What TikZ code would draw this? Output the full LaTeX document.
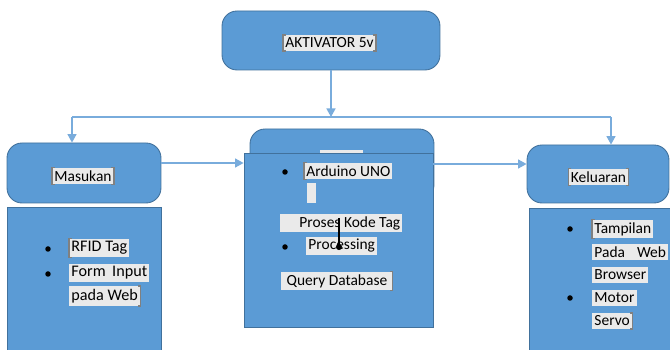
\documentclass[tikz,border=0pt]{standalone}
\usepackage{fontspec}
\setmainfont{Carlito}
\usetikzlibrary{arrows.meta,positioning,calc}
\definecolor{boxblue}{HTML}{5B9BD5}
\definecolor{boxedge}{HTML}{41719C}
\definecolor{linkblue}{HTML}{79ACDC}
\definecolor{lblgray}{HTML}{EAEAEA}
\tikzset{
  >={Triangle[length=1.7mm,width=1.8mm]},
  head/.style={draw=boxedge, fill=boxblue, rounded corners=3mm, line width=0.5pt},
  body/.style={draw=boxedge, fill=boxblue, line width=0.5pt},
  lbl/.style={fill=lblgray, inner xsep=1.2pt, inner ysep=1.5pt, font=\fontsize{8.8}{10.5}\selectfont},
  big/.style={font=\fontsize{9.2}{11}\selectfont},
  link/.style={draw=linkblue, line width=0.8pt},
  brk/.style={draw=gray, line width=0.7pt},
  dot/.style={circle, fill=black, inner sep=0pt, minimum size=1.1mm},
}

\begin{document}
\begin{tikzpicture}[x=0.02cm, y=-0.02cm]
  \useasboundingbox (0,0) rectangle (670,350);
  \clip (0,0) rectangle (670,350);
  % top block
  \node[head, minimum width=4.36cm, minimum height=1.18cm] (akt) at (331,40.5) {};
  \node[lbl] (akttxt) at (329.5,43) {AKTIVATOR 5v};
  % input side
  \node[head, minimum width=3.08cm, minimum height=1.2cm] (mas) at (84,173) {};
  \node[lbl] (mastxt) at (83,176) {Masukan};
  \node[body, minimum width=3.08cm, minimum height=3.06cm] (masb) at (84,283.5) {};
  \node[dot] (b1) at (48,249) {};
  \node[dot] (b2) at (48,274) {};
  \node[lbl, big, anchor=west] (rfid) at (69,248) {RFID Tag\hspace{1.2mm}};
  \node[lbl, big, anchor=west] (form) at (69,273) {Form\hspace{1.3mm}Input};
  \node[lbl, big, anchor=west] (pweb) at (69,296) {pada Web};
  % process block
  \node[head, minimum width=3.68cm, minimum height=1.42cm] (ctrh) at (342,164.5) {};
  \node[fill=lblgray, inner sep=0pt, minimum width=0.86cm, minimum height=0.4cm] (ctrlbl) at (341.5,160) {};
  \node[body, minimum width=3.78cm, minimum height=3.48cm] (ctr) at (338.5,240) {};
  \node[dot] (b3) at (285,172) {};
  \node[dot] (b4) at (285,247) {};
  \node[lbl, anchor=west] (ard) at (304,171) {Arduino UNO\hspace{1.5mm}};
  \node[fill=lblgray, inner sep=0pt, minimum width=0.18cm, minimum height=0.4cm] (gap) at (311.5,193) {};
  \node[lbl, anchor=west] (kode) at (280,223) {\hspace{3.4mm}Proses Kode Tag\hspace{0.8mm}};
  \node[lbl, anchor=west] (proc) at (306,246) {Processing\hspace{0.5mm}};
  \node[lbl, anchor=west, inner xsep=3pt] (qdb) at (281,281) {Query Database};
  \draw[-{Circle[length=1.2mm]}, line width=0.6pt] (339,218) -- (339,250);
  % output side
  \node[head, minimum width=2.84cm, minimum height=1.16cm] (kel) at (598,174) {};
  \node[lbl] (keltxt) at (598.5,177) {Keluaran};
  \node[body, minimum width=2.92cm, minimum height=3.04cm] (kelb) at (602,284) {};
  \node[dot] (b5) at (570,229) {};
  \node[dot] (b6) at (570,298) {};
  \node[lbl, anchor=west] (tamp) at (592,229) {Tampilan};
  \node[lbl, anchor=west] (pada) at (592,252) {Pada\hspace{2.4mm}Web};
  \node[lbl, anchor=west] (brow) at (592,275) {Browser\hspace{0.8mm}};
  \node[lbl, anchor=west] (motor) at (592,298) {Motor\hspace{0.6mm}};
  \node[lbl, anchor=west] (servo) at (592,321) {Servo};
  % brackets round the labels
  \draw[brk] ([xshift=1.5pt]akttxt.north west) -- (akttxt.north west) -- (akttxt.south west) -- ([xshift=1.5pt]akttxt.south west);
  \draw[brk] ([xshift=-1.5pt]akttxt.north east) -- (akttxt.north east) -- (akttxt.south east) -- ([xshift=-1.5pt]akttxt.south east);
  \draw[brk] ([xshift=1.5pt]mastxt.north west) -- (mastxt.north west) -- (mastxt.south west) -- ([xshift=1.5pt]mastxt.south west);
  \draw[brk] ([xshift=-1.5pt]mastxt.north east) -- (mastxt.north east) -- (mastxt.south east) -- ([xshift=-1.5pt]mastxt.south east);
  \draw[brk] ([xshift=1.5pt]keltxt.north west) -- (keltxt.north west) -- (keltxt.south west) -- ([xshift=1.5pt]keltxt.south west);
  \draw[brk] ([xshift=-1.5pt]keltxt.north east) -- (keltxt.north east) -- (keltxt.south east) -- ([xshift=-1.5pt]keltxt.south east);
  \draw[brk] ([xshift=1.5pt]rfid.north west) -- (rfid.north west) -- (rfid.south west) -- ([xshift=1.5pt]rfid.south west);
  \draw[brk] ([xshift=-1.5pt]pweb.north east) -- (pweb.north east) -- (pweb.south east) -- ([xshift=-1.5pt]pweb.south east);
  \draw[brk] ([xshift=1.5pt]ard.north west) -- (ard.north west) -- (ard.south west) -- ([xshift=1.5pt]ard.south west);
  \draw[brk] ([xshift=-1.5pt]qdb.north east) -- (qdb.north east) -- (qdb.south east) -- ([xshift=-1.5pt]qdb.south east);
  \draw[brk] ([xshift=1.5pt]tamp.north west) -- (tamp.north west) -- (tamp.south west) -- ([xshift=1.5pt]tamp.south west);
  \draw[brk] ([xshift=-1.5pt]servo.north east) -- (servo.north east) -- (servo.south east) -- ([xshift=-1.5pt]servo.south east);
  % connectors
  \coordinate (split) at (331,117);
  \coordinate (lsplit) at (72,117);
  \coordinate (rsplit) at (611,117);
  \draw[link,->] (akt.south) -- (split);
  \draw[link] (lsplit) -- (rsplit);
  \draw[link,->] (lsplit) -- (lsplit |- mas.north);
  \draw[link,->] (rsplit) -- (rsplit |- kel.north);
  \draw[link,->] ([yshift=0.2cm]mas.east) -- ([yshift=0.2cm]mas.east -| ctr.west);
  \draw[link,->] ([yshift=0.2cm]kel.west -| ctr.east) -- ([yshift=0.2cm]kel.west);
\end{tikzpicture}
\end{document}
